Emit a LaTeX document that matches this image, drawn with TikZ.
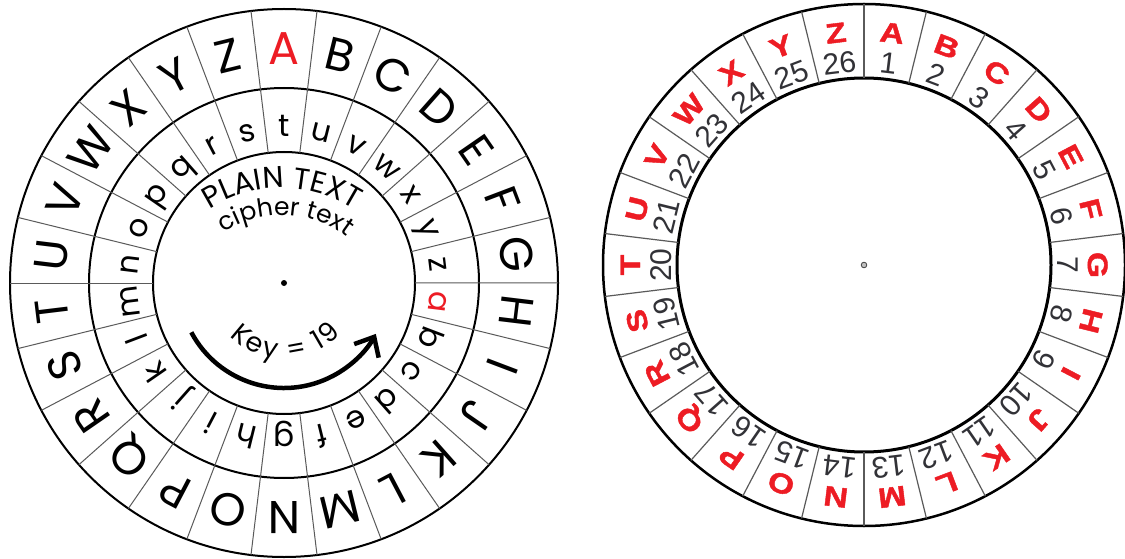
\documentclass[tikz,border=0pt]{standalone}
\usepackage{fontspec}
\usetikzlibrary{arrows.meta,decorations.text}
\newfontfamily\popfont{Poppins}
\newfontfamily\redfont[FakeStretch=1.2,FakeBold=1.5]{Liberation Sans Bold}
\newfontfamily\numfont{Liberation Sans}
\definecolor{cipherred}{RGB}{237,28,36}
\definecolor{divgray}{RGB}{90,90,90}
\definecolor{numgray}{RGB}{50,50,55}
\begin{document}
\begin{tikzpicture}[x=1pt,y=1pt,
  ringline/.style={line width=2pt, draw=black},
  divline/.style={line width=1pt, draw=divgray},
  upletter/.style={font=\popfont\fontsize{46}{46}\selectfont, inner sep=0pt, anchor=base},
  lowletter/.style={font=\popfont\fontsize{31}{31}\selectfont, inner sep=0pt, anchor=base},
  redletter/.style={font=\redfont\fontsize{28}{28}\selectfont, text=cipherred, inner sep=0pt, anchor=base},
  numlabel/.style={font=\numfont\fontsize{30}{30}\selectfont, text=numgray, inner sep=0pt, anchor=base},
  arctext/.style={decorate, decoration={text along path, text align={align=center}, text color=black}},
  fittext/.style={decorate, decoration={text along path, text align={fit to path}, text color=black}},
]
\useasboundingbox (0,0) rectangle (1125,558);
\fill[white] (0,0) rectangle (1125,558);
\coordinate (L) at (284,275);
\coordinate (R) at (864,293);
\coordinate (P) at (282,238);
% ---------------- left wheel
\draw[ringline] (L) circle[radius=274pt];
\draw[ringline] (L) circle[radius=195pt];
\draw[ringline] (L) circle[radius=131pt];
\foreach \k in {0,...,25} {
  \pgfmathsetmacro\dang{90+6.923+\k*13.8462}
  \draw[divline] ([shift={(\dang:131pt)}]L) -- ([shift={(\dang:274pt)}]L);
}
\foreach \ch [count=\i from 0] in {A,...,Z} {
  \pgfmathsetmacro\ang{90-\i*13.8462}
  \ifnum\i=0 \def\col{cipherred}\else\def\col{black}\fi
  \node[upletter, text=\col, rotate=\ang-90] (up\i) at ([shift={(\ang:218pt)}]L) {\ch};
}
\foreach \ch [count=\i from 0] in {a,...,z} {
  \pgfmathsetmacro\ang{90-(\i-19)*13.8462}
  \ifnum\i=0 \def\col{cipherred}\else\def\col{black}\fi
  \node[lowletter, text=\col, rotate=\ang-90] (lo\i) at ([shift={(\ang:146pt)}]L) {\ch};
}
\fill (L) circle[radius=3pt];
\path[arctext, decoration={text={|\popfont\fontsize{30}{30}\selectfont|PLAIN TEXT}}]
  ([shift={(130:132pt)}]P) arc[start angle=130, end angle=50, radius=132pt];
\path[arctext, decoration={text={|\popfont\fontsize{25}{25}\selectfont|cipher text}}]
  ([shift={(128:105pt)}]P) arc[start angle=128, end angle=48, radius=105pt];
\path[fittext, decoration={text={|\popfont\fontsize{27}{27}\selectfont|Key = 19}}]
  ([shift={(224:76pt)}]L) arc[start angle=224, end angle=318, radius=76pt];
\draw[line width=4.5pt, -{Straight Barb[length=16pt,width=28pt]}]
  ([shift={(208:105pt)}]L) arc[start angle=208, end angle=331, radius=105pt];
% ---------------- right wheel
\draw[line width=2.5pt] (R) circle[radius=261pt];
\draw[line width=3pt] (R) circle[radius=187pt];
\foreach \k in {0,...,25} {
  \pgfmathsetmacro\dang{90+\k*13.8462}
  \draw[line width=1.2pt, draw=divgray] ([shift={(\dang:187pt)}]R) -- ([shift={(\dang:261pt)}]R);
}
\foreach \ch [count=\i from 0] in {A,...,Z} {
  \pgfmathsetmacro\ang{90-(\i+0.5)*13.8462}
  \node[redletter, rotate=\ang-90] (rl\i) at ([shift={(\ang:224pt)}]R) {\ch};
}
\foreach \n in {1,...,26} {
  \pgfmathsetmacro\ang{90-(\n-0.5)*13.8462}
  \node[numlabel, rotate=\ang-90] (rn\n) at ([shift={(\ang:193pt)}]R) {\n};
}
\filldraw[fill=gray!50, draw=black!75, line width=0.8pt] (R) circle[radius=2.8pt];
\end{tikzpicture}
\end{document}
